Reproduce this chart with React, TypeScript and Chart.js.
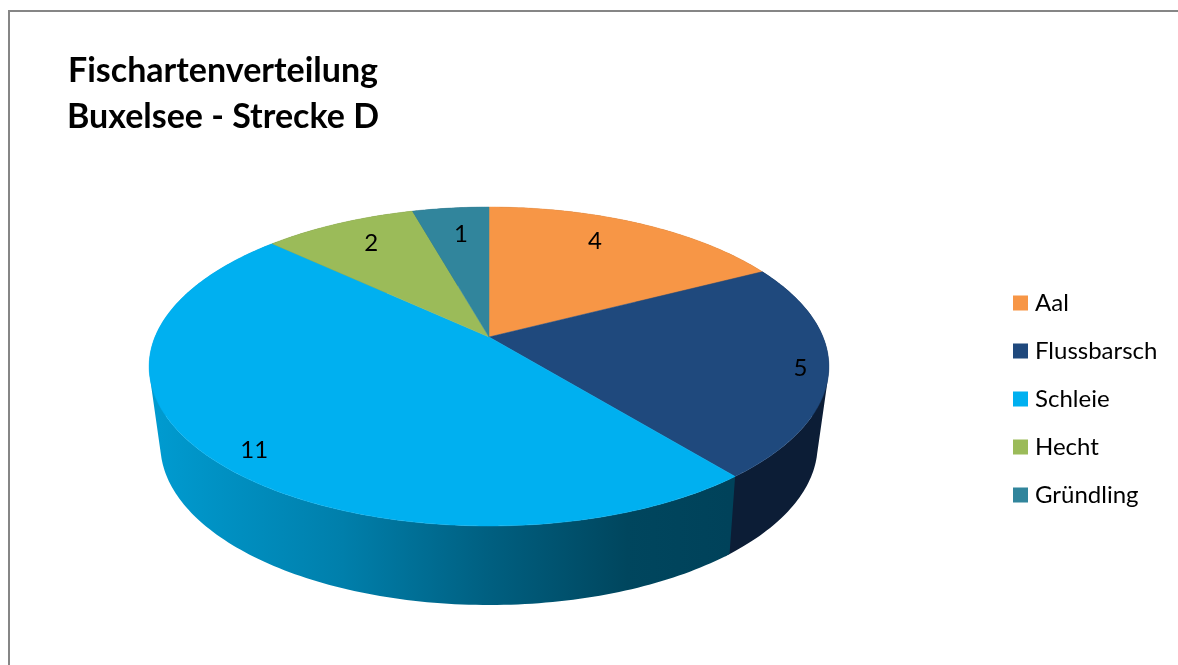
import React, { useEffect, useRef } from "react";
import { Chart, registerables } from "chart.js";

Chart.register(...registerables);

const categories = ["Aal", "Flussbarsch", "Schleie", "Hecht", "Gründling"];
const counts = [4, 5, 11, 2, 1];
const titleLines = ["Fischartenverteilung", "Buxelsee - Strecke D"];

const faceColors = ["#F79646", "#1F497D", "#00B0F0", "#9BBB59", "#31859C"];
const wallStops: [number, string][][] = [
  [[0, "#9c5a24"], [1, "#9c5a24"]],
  [[0, "#0C1D36"], [1, "#0C1D36"]],
  [[0, "#009ACF"], [0.32, "#007FAB"], [0.58, "#005F80"], [0.82, "#00465E"], [1, "#00425A"]],
  [[0, "#5f7536"], [1, "#5f7536"]],
  [[0, "#1d5160"], [1, "#1d5160"]],
];
const labelReach = [0.79, 0.92, 0.895, 0.795, 0.77];
const labelTurnDeg = [-4.3, 0.5, -3.2, 1.3, 0.7];

// perspective of the lid and of the floor of the disc
const lid = { cx: 489, cy: 337, rx: 334, ry: 154, tilt: 0.185 };
const floor = { cx: 489, cy: 413, rx: 322, ry: 153.6, tilt: 0.2 };

const project = (p: typeof lid, angle: number, reach = 1) => {
  const u = Math.cos(angle) * reach;
  const v = Math.sin(angle) * reach;
  const d = 1 - p.tilt * v;
  return { x: p.cx + (p.rx * u) / d, y: p.cy + (p.ry * v) / d };
};

type Pt = { x: number; y: number };
const addQuad = (ctx: CanvasRenderingContext2D, q: Pt[]) => {
  let area = 0;
  q.forEach((p, i) => {
    const n = q[(i + 1) % q.length];
    area += p.x * n.y - n.x * p.y;
  });
  const pts = area < 0 ? [...q].reverse() : q;
  ctx.moveTo(pts[0].x, pts[0].y);
  pts.slice(1).forEach((p) => ctx.lineTo(p.x, p.y));
  ctx.closePath();
};

const pie3d = {
  id: "pie3d",
  beforeDraw(chart: any) {
    const { ctx, width, height } = chart;
    ctx.save();
    ctx.fillStyle = "#ffffff";
    ctx.fillRect(0, 0, width, height);
    ctx.strokeStyle = "#868686";
    ctx.lineWidth = 2;
    ctx.beginPath();
    ctx.moveTo(9, height);
    ctx.lineTo(9, 11);
    ctx.lineTo(width, 11);
    ctx.stroke();
    ctx.restore();
  },
  afterLayout(chart: any) {
    // the title and the legend sit apart from the automatic boxes
    chart.titleBlock.left = 0;
    chart.titleBlock.right = 446;
    const legend = chart.legend;
    const w = legend.right - legend.left;
    legend.left = 994;
    legend.right = legend.left + w;
    legend.top = 240;
    legend.bottom = 558;
  },
  beforeDatasetsDraw(chart: any) {
    const { ctx } = chart;
    const arcs = chart.getDatasetMeta(0).data;
    const step = Math.PI / 180;
    ctx.save();
    // wall: one path per slice, so that no seams appear between the steps
    arcs.forEach((arc: any, i: number) => {
      const grad = ctx.createLinearGradient(160, 0, 730, 0);
      wallStops[i].forEach(([o, c]) => grad.addColorStop(o, c));
      ctx.fillStyle = grad;
      const end = arc.endAngle + step;
      ctx.beginPath();
      for (let a = arc.startAngle; a < end - 1e-6; a += step) {
        const b = Math.min(a + step, end);
        addQuad(ctx, [project(lid, a), project(lid, b), project(floor, b), project(floor, a)]);
      }
      ctx.fill();
    });
    // lid
    arcs.forEach((arc: any, i: number) => {
      ctx.fillStyle = faceColors[i];
      ctx.strokeStyle = faceColors[i];
      ctx.lineWidth = 0.5;
      ctx.beginPath();
      ctx.moveTo(lid.cx, lid.cy);
      for (let a = arc.startAngle; a < arc.endAngle; a += step / 2) {
        const p = project(lid, a);
        ctx.lineTo(p.x, p.y);
      }
      const e = project(lid, arc.endAngle);
      ctx.lineTo(e.x, e.y);
      ctx.closePath();
      ctx.fill();
      ctx.stroke();
    });
    // value labels
    ctx.fillStyle = "#000000";
    ctx.font = "24px Lato";
    ctx.textAlign = "center";
    ctx.textBaseline = "middle";
    arcs.forEach((arc: any, i: number) => {
      const mid = (arc.startAngle + arc.endAngle) / 2 + (labelTurnDeg[i] * Math.PI) / 180;
      const p = project(lid, mid, labelReach[i]);
      ctx.fillText(String(counts[i]), p.x, p.y);
    });
    ctx.restore();
    return false;
  },
};

export default function App() {
  const ref = useRef<HTMLCanvasElement | null>(null);
  useEffect(() => {
    const chart = new Chart(ref.current as HTMLCanvasElement, {
      type: "pie",
      data: {
        labels: categories,
        datasets: [{ data: counts, backgroundColor: faceColors, borderWidth: 0 }],
      },
      options: {
        responsive: false,
        animation: false,
        plugins: {
          tooltip: { enabled: false },
          title: {
            display: true,
            text: titleLines,
            color: "#000000",
            align: "center",
            font: { family: "Lato", size: 34, weight: "bold", lineHeight: 1.353 },
            padding: { top: 48, bottom: 0 },
          },
          legend: {
            display: true,
            position: "right",
            labels: {
              color: "#000000",
              font: { family: "Lato", size: 24 },
              usePointStyle: true,
              pointStyle: "rect",
              boxHeight: 15,
              boxWidth: 5,
              padding: 24,
            },
          },
        },
      },
      plugins: [pie3d],
    } as any);
    return () => chart.destroy();
  }, []);
  return (
    <canvas
      ref={ref}
      width={1178}
      height={665}
      style={{ position: "fixed", left: 0, top: 0, width: 1178, height: 665, display: "block" }}
    />
  );
}
